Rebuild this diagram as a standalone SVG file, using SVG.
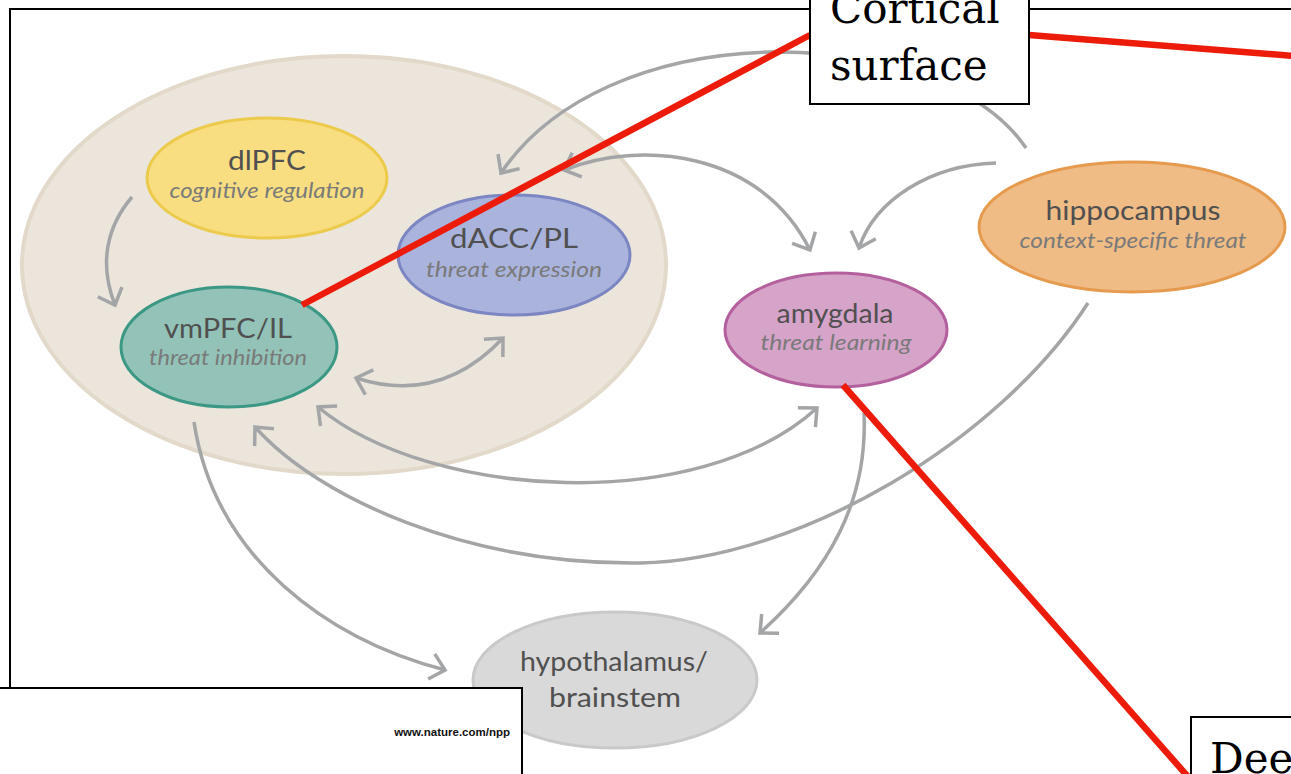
<svg xmlns="http://www.w3.org/2000/svg" width="1291" height="774" viewBox="0 0 1291 774">
<style>
.frame{fill:none;stroke:#000;stroke-width:2}
.box{fill:#fff;stroke:#000;stroke-width:2}
.conn{fill:none;stroke:#a4a5a7;stroke-width:3.5}
.red{stroke:#ec1b0a;stroke-width:6.5;fill:none}
.t{font-family:Lato,'Open Sans','DejaVu Sans',sans-serif;font-size:27px;fill:#505050;text-anchor:middle}
.s{font-family:Lato,'Open Sans','DejaVu Sans',sans-serif;font-style:italic;font-size:21px;fill:#7a7a7a;text-anchor:middle}
.lbl{font-family:'DejaVu Serif','Liberation Serif',serif;font-size:42px;fill:#000}
.url{font-family:'Liberation Sans',Arial,sans-serif;font-weight:bold;font-size:11.5px;fill:#111;text-anchor:end}
</style>
<defs>
<marker id="ah" viewBox="0 0 24 30" refX="18" refY="15" markerWidth="24" markerHeight="30" markerUnits="userSpaceOnUse" orient="auto-start-reverse">
<path d="M4,2 L18,15 L4,28" fill="none" stroke="#a4a5a7" stroke-width="3.5"/>
</marker>
</defs>
<rect x="0" y="0" width="1291" height="774" fill="#fff"/>
<rect class="frame" x="10" y="9" width="1300" height="800"/>

<g id="cortex-region">
<ellipse cx="344" cy="265" rx="322" ry="209" fill="#ebe5dc" stroke="#e2d9ca" stroke-width="4"/>
</g>

<g id="connectors">
<path class="conn" d="M132,197 C108,225 98,262 115,305" marker-end="url(#ah)"/>
<path class="conn" d="M356,378 Q440,405 503,338" marker-start="url(#ah)" marker-end="url(#ah)"/>
<path class="conn" d="M318,407 C430,500 700,515 817,408" marker-start="url(#ah)" marker-end="url(#ah)"/>
<path class="conn" d="M255,427 C320,500 470,565 640,563 C800,560 1000,440 1088,303" marker-start="url(#ah)"/>
<path class="conn" d="M194,422 C215,560 330,640 445,670" marker-end="url(#ah)"/>
<path class="conn" d="M864,413 C868,500 830,570 760,633" marker-end="url(#ah)"/>
<path class="conn" d="M1026,148 C990,95 900,50 770,52 C650,55 550,100 501,173" marker-end="url(#ah)"/>
<path class="conn" d="M564,170 C640,140 760,150 810,250" marker-start="url(#ah)" marker-end="url(#ah)"/>
<path class="conn" d="M996,163 C930,165 875,200 859,248" marker-end="url(#ah)"/>
</g>

<g id="dlPFC">
<ellipse cx="267" cy="178" rx="120" ry="60" fill="#f8de80" stroke="#ecca4c" stroke-width="3"/>
<text class="t" x="267" y="170" textLength="78" lengthAdjust="spacingAndGlyphs" fill="#4f4d42">dlPFC</text>
<text class="s" x="267" y="198" textLength="195" lengthAdjust="spacingAndGlyphs">cognitive regulation</text>
</g>
<g id="dACC">
<ellipse cx="514" cy="255" rx="116" ry="60" fill="#aab3dc" stroke="#7b86c2" stroke-width="3"/>
<text class="t" x="514" y="248" textLength="128" lengthAdjust="spacingAndGlyphs">dACC/PL</text>
<text class="s" x="514" y="277" textLength="176" lengthAdjust="spacingAndGlyphs">threat expression</text>
</g>
<g id="vmPFC">
<ellipse cx="229" cy="347" rx="108" ry="60" fill="#93c3b8" stroke="#3b9884" stroke-width="3"/>
<text class="t" x="228" y="338" textLength="128" lengthAdjust="spacingAndGlyphs">vmPFC/IL</text>
<text class="s" x="228" y="365" textLength="158" lengthAdjust="spacingAndGlyphs">threat inhibition</text>
</g>
<g id="amygdala">
<ellipse cx="836" cy="330" rx="111" ry="57" fill="#d6a3c9" stroke="#b4609e" stroke-width="3"/>
<text class="t" x="835" y="323" textLength="117" lengthAdjust="spacingAndGlyphs">amygdala</text>
<text class="s" x="836" y="350" textLength="151" lengthAdjust="spacingAndGlyphs">threat learning</text>
</g>
<g id="hippocampus">
<ellipse cx="1132" cy="227" rx="153" ry="65" fill="#efbc85" stroke="#e69a4e" stroke-width="3"/>
<text class="t" x="1133" y="220" textLength="175" lengthAdjust="spacingAndGlyphs">hippocampus</text>
<text class="s" x="1133" y="248" textLength="227" lengthAdjust="spacingAndGlyphs">context-specific threat</text>
</g>
<g id="hypothalamus">
<ellipse cx="615" cy="680" rx="142" ry="68" fill="#d9d9d9" stroke="#c9c9c9" stroke-width="3"/>
<text class="t" x="614" y="671" textLength="188" lengthAdjust="spacingAndGlyphs" fill="#666">hypothalamus/</text>
<text class="t" x="615" y="707" textLength="132" lengthAdjust="spacingAndGlyphs" fill="#666">brainstem</text>
</g>

<g id="pointers">
<line class="red" x1="302" y1="305" x2="810" y2="35"/>
<line class="red" x1="1029" y1="35" x2="1295" y2="56"/>
<line class="red" x1="843" y1="385" x2="1190" y2="779"/>
</g>

<g id="source-box">
<rect class="box" x="-5" y="688" width="527" height="100"/>
<text class="url" x="510" y="736">www.nature.com/npp</text>
</g>
<g id="label-cortical">
<rect class="box" x="810" y="-5" width="219" height="109"/>
<text class="lbl" x="830" y="23">Cortical</text>
<text class="lbl" x="830" y="80">surface</text>
</g>
<g id="label-deep">
<rect class="box" x="1191" y="717" width="200" height="100"/>
<text class="lbl" x="1210" y="773">Dee</text>
</g>
</svg>
